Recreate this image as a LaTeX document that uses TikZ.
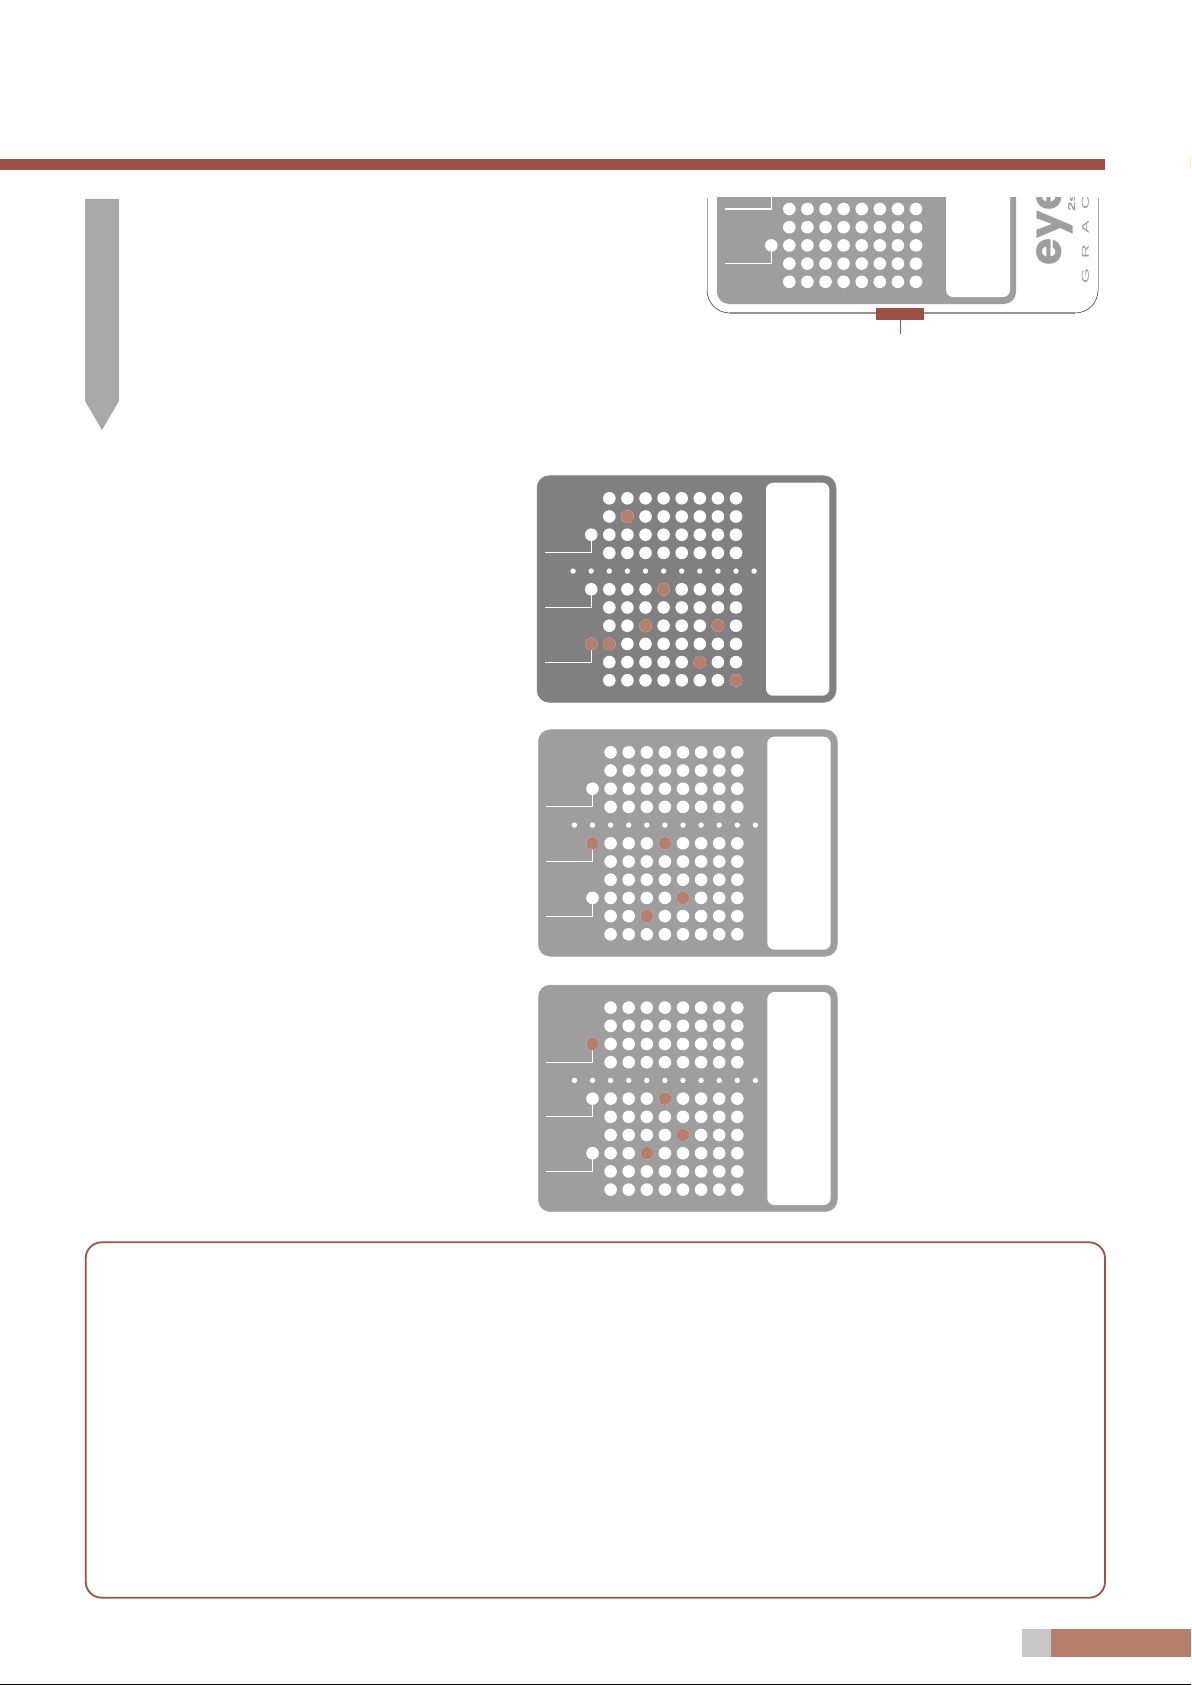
\documentclass[tikz,border=0pt]{standalone}
\usepackage{fontspec}
\newfontfamily\logofont{Poppins}
\newfontfamily\plainfont{Liberation Sans}
\definecolor{barred}{HTML}{9E5047}
\definecolor{dotred}{HTML}{B57F6B}
\definecolor{cardgray}{HTML}{9E9E9E}
\definecolor{carddark}{HTML}{808080}
\definecolor{arrowgray}{HTML}{A9A9A9}
\definecolor{tabgray}{HTML}{C8C8C8}
\pgfmathsetmacro\colstep{18.1}
\pgfmathsetmacro\rowstep{18.2}

%% one card, drawn where the top one sits and then shifted:
%% #1,#2 shift, #3 colour, #4 red dots (col/row), #5 rows with a leader
\newcommand\gridcard[5]{%
  \begin{scope}[shift={(#1,#2)}]
    \draw[fill=#3,draw=#3!90!white,line width=.25pt,rounded corners=6pt] (537,475.7) rectangle (836,702.3);
    \fill[white,rounded corners=3.5pt] (766,482.7) rectangle (829.3,695.7);
    %% big dots
    \foreach \row in {1,2,3,4,6,7,8,9,10,11}
      \foreach \col in {1,...,8}
        \fill[white] ({609.3+\colstep*(\col-1)},{498.3+\rowstep*(\row-1)}) circle (3.15pt);
    %% small dots
    \foreach \col in {-1,...,9}
      \fill[white] ({609.3+\colstep*(\col-1)},571.1) circle (1.35pt);
    %% leaders
    \foreach \row in {#5} {
      \fill[white] (591.2,{498.3+\rowstep*(\row-1)}) circle (3.15pt);
      \draw[leader] (591.2,{498.3+\rowstep*(\row-1)}) |- (545,{498.3+\rowstep*\row});
    }
    %% red dots
    \foreach \col/\row in {#4}
      \fill[dotred] ({609.3+\colstep*(\col-1)},{498.3+\rowstep*(\row-1)}) circle (3.15pt);
  \end{scope}%
}

\begin{document}
\begin{tikzpicture}[x=.5pt,y=-.5pt,
    leader/.style={white,line width=.55pt},
    bigletter/.style={rotate=90,anchor=base west,inner sep=0pt,color=cardgray,
      font=\logofont\bfseries\fontsize{22}{22}\selectfont},
    smalldigit/.style={rotate=90,anchor=base west,inner sep=0pt,color=cardgray,
      font=\plainfont\bfseries\fontsize{5}{5}\selectfont},
    smallletter/.style={rotate=90,inner sep=0pt,color=cardgray,
      font=\plainfont\fontsize{5}{5}\selectfont}]

  \useasboundingbox (0,0) rectangle (1191,1685);

  %% header bar
  \fill[barred] (0,159) rectangle (1105,170);

  %% side arrow
  \fill[arrowgray] (85,199) -- (119,199) -- (119,401) -- (102,430) -- (85,401) -- cycle;

  %%%%%%%%%%%%%%%%
  %% top panel, cut off at its upper edge
  \begin{scope}
    \clip (690,198) rectangle (1110,330);

    %% thin outline
    \draw[color=gray!70,line width=.4pt] (707,198) -- (707,290);
    \draw[color=gray!70,line width=.4pt] (1098,198) -- (1098,290);
    \draw[color=gray!85,line width=.6pt] (730,313) -- (1075,313);
    \draw[color=black!75,line width=.3pt] (707,290) .. controls (707,303) and (717,313) .. (730,313);
    \draw[color=black!75,line width=.3pt] (1098,290) .. controls (1098,303) and (1088,313) .. (1075,313);

    %% body
    \fill[cardgray,rounded corners=6pt] (717,150) rectangle (1016,304);
    \fill[white,rounded corners=3.5pt] (946,150) rectangle (1010,297);

    \foreach \row in {0,...,4}
      \foreach \col in {0,...,7}
        \fill[white] ({789.3+\colstep*\col},{209+18.2*\row}) circle (3.15pt);
    \fill[white] (771.3,245.4) circle (3.15pt);

    \draw[leader] (771.5,190) |- (725,209);
    \draw[leader] (771.5,245.4) |- (725,263.6);

    %% lettering
    \node[bigletter] (logoname) at (1061,266) {eye};
    \node[smalldigit] (logosub) at (1075,212) {\scalebox{1.7}[1]{2s}};
    \node[smallletter] (letterg) at (1085.5,276) {\scalebox{1.9}[1]{G}};
    \node[smallletter] (letterr) at (1085.5,252) {\scalebox{1.9}[1]{R}};
    \node[smallletter] (lettera) at (1085.5,227.5) {\scalebox{1.9}[1]{A}};
    \node[smallletter] (letterc) at (1085.5,203) {\scalebox{1.9}[1]{C}};
  \end{scope}

  %% red tab under the panel
  \fill[barred] (876,308) rectangle (924,320);
  \draw[barred,line width=.5pt] (900.3,320) -- (900.3,333.7);

  %%%%%%%%%%%%%%%%
  %% three cards
  \gridcard{0}{0}{carddark}{2/2,4/6,3/8,7/8,0/9,1/9,6/10,8/11}{3,6,9}
  \gridcard{1.3}{254}{cardgray}{0/6,4/6,5/9,3/10}{3,6,9}
  \gridcard{1.3}{509.3}{cardgray}{0/3,4/6,5/8,3/9}{3,6,9}

  %%%%%%%%%%%%%%%%
  %% bottom frame
  \draw[barred,line width=.9pt,rounded corners=8pt] (85.7,1242.3) rectangle (1105,1597.7);

  %% page tab
  \fill[tabgray] (1022,1629) rectangle (1051,1657);
  \fill[dotred] (1051,1629) rectangle (1191,1657);

  %% edge marks
  \fill[black] (0,1684) rectangle (1191,1685);
  \fill[yellow!50] (1190,157) rectangle (1191,169);

\end{tikzpicture}
\end{document}
